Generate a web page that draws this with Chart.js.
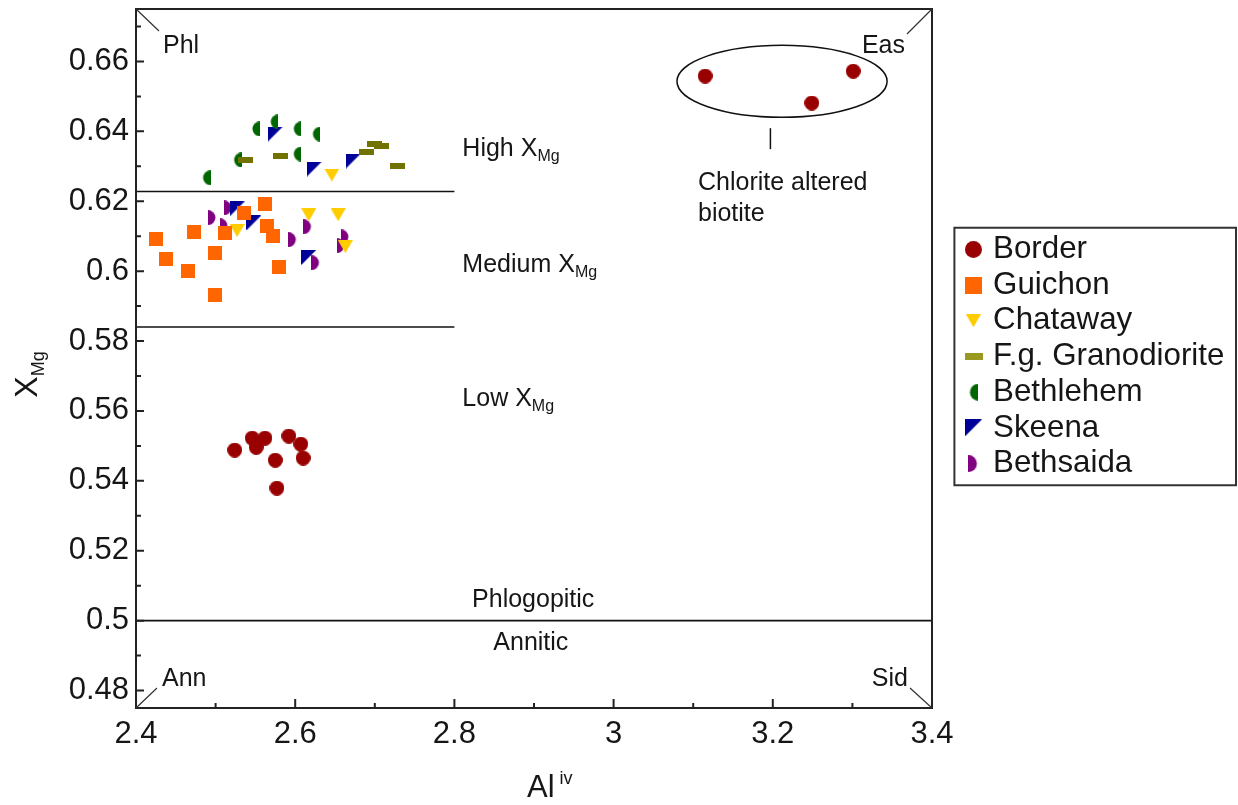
<!DOCTYPE html>
<html><head><meta charset="utf-8">
<script src="https://cdn.jsdelivr.net/npm/chart.js@4.4.0/dist/chart.umd.min.js"></script>
<style>html,body{margin:0;padding:0;background:#fff;}#wrap{width:1238px;height:805px;}</style>
</head><body><div id="wrap"><canvas id="c" width="1238" height="805"></canvas></div>
<script>
// ---------- data ----------
const seriesNames = ['Border','Guichon','Chataway','F.g. Granodiorite','Bethlehem','Skeena','Bethsaida'];
const borderAl   = [2.524,2.546,2.551,2.562,2.592,2.607,2.610,2.575,2.577,3.115,3.249,3.301];
const borderXMg  = [0.5488,0.5522,0.5496,0.5522,0.5528,0.5505,0.5465,0.5459,0.5379,0.6558,0.6481,0.6572];
const guichonAl  = [2.425,2.438,2.465,2.473,2.499,2.499,2.512,2.536,2.562,2.565,2.572,2.580];
const guichonXMg = [0.6093,0.6036,0.6001,0.6113,0.6053,0.5933,0.6110,0.6167,0.6193,0.6130,0.6101,0.6013];
const chatawayAl  = [2.527,2.617,2.654,2.663,2.646];
const chatawayXMg = [0.6116,0.6161,0.6161,0.6070,0.6275];
const fgAl  = [2.538,2.582,2.690,2.699,2.708,2.729];
const fgXMg = [0.6318,0.6329,0.6341,0.6364,0.6358,0.6301];
const bethlehemAl  = [2.550,2.573,2.602,2.626,2.602,2.527,2.488];
const bethlehemXMg = [0.6407,0.6427,0.6407,0.6392,0.6335,0.6318,0.6267];
const skeenaAl  = [2.527,2.548,2.575,2.624,2.673,2.617];
const skeenaXMg = [0.6178,0.6138,0.6392,0.6292,0.6315,0.6039];
const bethsaidaAl  = [2.496,2.516,2.511,2.597,2.616,2.626,2.658,2.663];
const bethsaidaXMg = [0.6153,0.6181,0.6130,0.6090,0.6127,0.6024,0.6073,0.6098];

// boundaries: [x1, x2, y]
const highBoundary   = [2.4, 2.8, 0.6228];
const mediumBoundary = [2.4, 2.8, 0.584];
const phlogBoundary  = [2.4, 3.4, 0.5];

const xTicks = [2.4,2.6,2.8,3.0,3.2,3.4];
const xTickLabels = ['2.4','2.6','2.8','3','3.2','3.4'];
const xMinorTicks = [2.5,2.7,2.9,3.1,3.3];
const yTicks = [0.48,0.50,0.52,0.54,0.56,0.58,0.60,0.62,0.64,0.66];
const yTickLabels = ['0.48','0.5','0.52','0.54','0.56','0.58','0.6','0.62','0.64','0.66'];
const yMinorTicks = [0.49,0.51,0.53,0.55,0.57,0.59,0.61,0.63,0.65,0.67];
const xRange = [2.4, 3.4];
const yRange = [0.475, 0.675];

// ---------- markers ----------
function makeMarker(kind, color, s) {
  const c = document.createElement('canvas');
  let w = s, h = s;
  if (kind === 'dash') h = Math.round(s * 0.38);
  if (kind === 'halfL' || kind === 'halfR') w = Math.ceil(s / 2) + 1;
  if (kind === 'triDown') h = Math.round(s * 0.87);
  c.width = w; c.height = h;
  const g = c.getContext('2d');
  g.fillStyle = color;
  g.beginPath();
  if (kind === 'circle') g.arc(w / 2, h / 2, s / 2, 0, 2 * Math.PI);
  else if (kind === 'square' || kind === 'dash') g.rect(0, 0, w, h);
  else if (kind === 'triDown') { g.moveTo(0, 0); g.lineTo(w, 0); g.lineTo(w / 2, h); g.closePath(); }
  else if (kind === 'halfL') { g.moveTo(w, 0); g.arc(w, h / 2, s / 2, Math.PI / 2, 3 * Math.PI / 2); g.closePath(); }
  else if (kind === 'halfR') { g.moveTo(0, 0); g.arc(0, h / 2, s / 2, -Math.PI / 2, Math.PI / 2); g.closePath(); }
  else if (kind === 'triTL') { g.moveTo(0, 0); g.lineTo(w, 0); g.lineTo(0, h); g.closePath(); }
  g.fill();
  return c;
}
const kinds  = ['circle','square','triDown','dash','halfL','triTL','halfR'];
const colors = ['#990000','#ff6600','#ffcc00','#727200','#006600','#000099','#800080'];
const plotSizes   = [15,14,15,15,15,15,15];
const legendSizes = [17,17,15,19,17,17,17];
const plotMarkers   = kinds.map((k, i) => makeMarker(k, colors[i], plotSizes[i]));
const legendMarkers = kinds.map((k, i) => makeMarker(k, i === 3 ? '#999922' : colors[i], legendSizes[i]));

function pts(xs, ys) { return xs.map((x, i) => ({x, y: ys[i]})); }
const seriesData = [
  pts(borderAl, borderXMg), pts(guichonAl, guichonXMg), pts(chatawayAl, chatawayXMg),
  pts(fgAl, fgXMg), pts(bethlehemAl, bethlehemXMg), pts(skeenaAl, skeenaXMg), pts(bethsaidaAl, bethsaidaXMg)
];
const datasets = seriesNames.map((n, i) => ({
  label: n, data: seriesData[i], pointStyle: plotMarkers[i], pointRadius: 8, pointHoverRadius: 8,
  backgroundColor: colors[i], borderColor: colors[i], showLine: false
}));
[highBoundary, mediumBoundary, phlogBoundary].forEach(b => datasets.push({
  label: 'guide', guide: true, data: [{x: b[0], y: b[2]}, {x: b[1], y: b[2]}],
  showLine: true, pointRadius: 0, borderColor: '#111', borderWidth: 1.6, fill: false
}));

const FONT = "'Liberation Sans', Arial, sans-serif";
const TXT = '#161616';

function rich(ctx, parts, x, y) {
  let cx = x;
  parts.forEach(p => {
    ctx.font = p.size + 'px ' + FONT;
    ctx.fillText(p.t, cx, y + (p.dy || 0));
    cx += ctx.measureText(p.t).width;
  });
  return cx - x;
}
function richWidth(ctx, parts) {
  let w = 0;
  parts.forEach(p => { ctx.font = p.size + 'px ' + FONT; w += ctx.measureText(p.t).width; });
  return w;
}

const deco = {
  id: 'deco',
  beforeLayout(chart) {
    const lg = chart.legend;
    if (lg && !lg._patched) {
      const f = lg.fit;
      lg.fit = function () { f.call(this); this.width = 306; };
      lg._patched = true;
    }
  },
  afterLayout(chart) {
    const lg = chart.legend;
    lg.left += 33; lg.right += 33; lg.top -= 2; lg.bottom -= 2;
  },
  afterDraw(chart) {
    const {ctx, chartArea: a, scales: {x: xs, y: ys}} = chart;
    const X = v => xs.getPixelForValue(v), Y = v => ys.getPixelForValue(v);
    ctx.save();
    // frame
    ctx.strokeStyle = '#222'; ctx.lineWidth = 2;
    ctx.strokeRect(a.left, a.top, a.right - a.left, a.bottom - a.top);
    // inward ticks
    ctx.beginPath();
    yTicks.forEach(v => { const p = Y(v); ctx.moveTo(a.left, p); ctx.lineTo(a.left + 8, p); });
    yMinorTicks.forEach(v => { const p = Y(v); ctx.moveTo(a.left, p); ctx.lineTo(a.left + 5, p); });
    xTicks.forEach(v => { const p = X(v); ctx.moveTo(p, a.bottom); ctx.lineTo(p, a.bottom - 9); });
    xMinorTicks.forEach(v => { const p = X(v); ctx.moveTo(p, a.bottom); ctx.lineTo(p, a.bottom - 5); });
    ctx.stroke();
    // corner diagonals
    ctx.lineWidth = 1.2; ctx.strokeStyle = '#333';
    ctx.beginPath();
    ctx.moveTo(a.left, a.top); ctx.lineTo(a.left + 23, a.top + 22);
    ctx.moveTo(a.right, a.top); ctx.lineTo(a.right - 25, a.top + 25);
    ctx.moveTo(a.left, a.bottom); ctx.lineTo(a.left + 21, a.bottom - 20);
    ctx.moveTo(a.right, a.bottom); ctx.lineTo(a.right - 22, a.bottom - 20);
    ctx.stroke();
    // ellipse around altered biotite
    ctx.strokeStyle = '#111'; ctx.lineWidth = 1.5;
    const ecx = X(3.2116), ecy = Y(0.6543);
    const erx = X(3.2116 + 0.132) - ecx, ery = ecy - Y(0.6543 + 0.0103);
    ctx.beginPath(); ctx.ellipse(ecx, ecy, erx, ery, 0, 0, 2 * Math.PI); ctx.stroke();
    ctx.beginPath(); ctx.moveTo(X(3.197), Y(0.6409)); ctx.lineTo(X(3.197), Y(0.6349)); ctx.stroke();

    // texts
    ctx.fillStyle = TXT; ctx.textBaseline = 'alphabetic'; ctx.textAlign = 'left';
    const S = 25, SUB = 16;
    const base = (v, size) => Y(v) + 0.36 * size;
    ctx.font = S + 'px ' + FONT;
    ctx.fillText('Phl', a.left + 27, a.top + 44);
    ctx.textAlign = 'right';
    ctx.fillText('Eas', a.right - 27, a.top + 44);
    ctx.fillText('Sid', a.right - 24, a.bottom - 22);
    ctx.textAlign = 'left';
    ctx.fillText('Ann', a.left + 26, a.bottom - 22);
    rich(ctx, [{t: 'High X', size: S}, {t: 'Mg', size: SUB, dy: 5}], X(2.81), base(0.6355, S));
    rich(ctx, [{t: 'Medium X', size: S}, {t: 'Mg', size: SUB, dy: 5}], X(2.81), base(0.6024, S));
    rich(ctx, [{t: 'Low X', size: S}, {t: 'Mg', size: SUB, dy: 5}], X(2.81), base(0.5639, S));
    ctx.font = S + 'px ' + FONT; ctx.textAlign = 'center';
    ctx.fillText('Phlogopitic', X(2.899), base(0.5066, S));
    ctx.fillText('Annitic', X(2.896), base(0.4943, S));
    ctx.textAlign = 'left';
    ctx.fillText('Chlorite altered', X(3.106), base(0.6258, S));
    ctx.fillText('biotite', X(3.106), base(0.6170, S));

    // axis titles
    const xt = [{t: 'Al', size: 31}, {t: ' iv', size: 18, dy: -13}];
    rich(ctx, xt, (a.left + a.right) / 2 - 7, 797);
    const yt = [{t: 'X', size: 32}, {t: 'Mg', size: 18, dy: 7}];
    const yw = richWidth(ctx, yt);
    ctx.save();
    ctx.translate(37, (a.top + a.bottom) / 2 + 16 + yw / 2);
    ctx.rotate(-Math.PI / 2);
    rich(ctx, yt, 0, 0);
    ctx.restore();

    // legend frame
    const hb = chart.legend.legendHitBoxes;
    if (hb && hb.length) {
      const f = hb[0], l = hb[hb.length - 1];
      ctx.strokeStyle = '#333'; ctx.lineWidth = 2;
      ctx.strokeRect(f.left - 15, f.top - 6, chart.width - 2 - (f.left - 15), l.top + l.height + 6 - (f.top - 6));
    }
    ctx.restore();
  }
};

const noPad = s => { s.paddingTop = 0; s.paddingBottom = 0; s.paddingLeft = 0; s.paddingRight = 0; };

new Chart(document.getElementById('c'), {
  type: 'scatter',
  data: {datasets},
  options: {
    responsive: false, animation: false, devicePixelRatio: 1,
    layout: {padding: {top: 7, left: 0, right: 0, bottom: 0}},
    scales: {
      x: {
        type: 'linear', min: xRange[0], max: xRange[1],
        grid: {display: false, drawTicks: false, tickLength: 0}, border: {display: false},
        afterBuildTicks: s => { s.ticks = xTicks.map(v => ({value: v})); },
        afterFit: s => { s.height = 97; noPad(s); },
        ticks: {padding: 8, color: TXT, font: {family: FONT, size: 31},
          callback: (v) => xTickLabels[xTicks.findIndex(t => Math.abs(t - v) < 1e-9)], maxRotation: 0, autoSkip: false}
      },
      y: {
        type: 'linear', min: yRange[0], max: yRange[1],
        grid: {display: false, drawTicks: false, tickLength: 0}, border: {display: false},
        afterBuildTicks: s => { s.ticks = yTicks.map(v => ({value: v})); },
        afterFit: s => { s.width = 136; noPad(s); },
        ticks: {padding: 7, color: TXT, font: {family: FONT, size: 31},
          callback: (v) => yTickLabels[yTicks.findIndex(t => Math.abs(t - v) < 1e-9)], autoSkip: false}
      }
    },
    plugins: {
      tooltip: {enabled: false},
      legend: {
        position: 'right', align: 'center', fullSize: false,
        labels: {
          usePointStyle: true, boxWidth: 8, boxHeight: 8, padding: 4.4, color: TXT,
          font: {family: FONT, size: 31.3},
          generateLabels: (chart) => {
            const items = Chart.defaults.plugins.legend.labels.generateLabels(chart);
            return items.filter(it => !chart.data.datasets[it.datasetIndex].guide)
              .map(it => { it.pointStyle = legendMarkers[it.datasetIndex]; it.fontColor = TXT; return it; });
          }
        }
      }
    }
  },
  plugins: [deco]
});
</script></body></html>
